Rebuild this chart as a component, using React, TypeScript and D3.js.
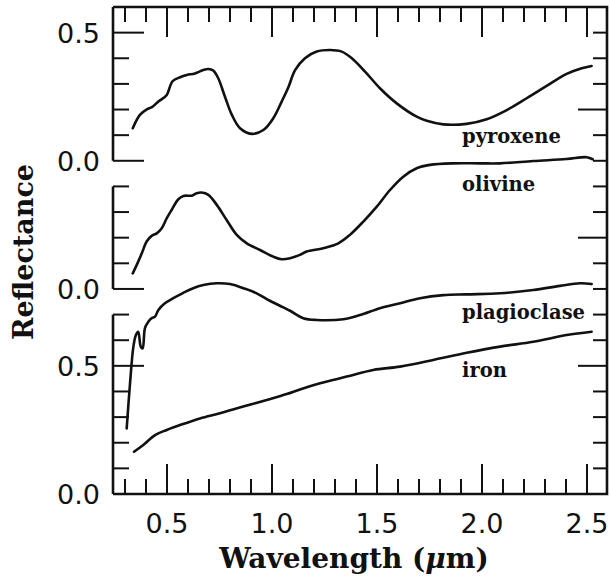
import React from "react";
import * as d3 from "d3";

// ---- data (wavelength in µm, reflectance) ----
const pyroxeneW = [0.337, 0.371, 0.404, 0.428, 0.459, 0.499, 0.514, 0.527, 0.562, 0.594, 0.633, 0.673, 0.697, 0.72, 0.744, 0.776, 0.809, 0.848, 0.903, 0.959, 1.006, 1.046, 1.078, 1.11, 1.157, 1.213, 1.276, 1.332, 1.38, 1.443, 1.514, 1.594, 1.689, 1.737, 1.816, 1.927, 2.022, 2.118, 2.213, 2.308, 2.403, 2.475, 2.522];
const pyroxeneR = [0.127, 0.179, 0.201, 0.209, 0.231, 0.257, 0.289, 0.311, 0.326, 0.335, 0.341, 0.354, 0.358, 0.352, 0.322, 0.25, 0.179, 0.127, 0.105, 0.12, 0.166, 0.231, 0.287, 0.354, 0.4, 0.426, 0.432, 0.426, 0.4, 0.348, 0.283, 0.224, 0.172, 0.156, 0.142, 0.144, 0.162, 0.198, 0.244, 0.292, 0.339, 0.361, 0.37];

const olivineW = [0.337, 0.356, 0.38, 0.403, 0.427, 0.451, 0.475, 0.499, 0.522, 0.554, 0.578, 0.618, 0.641, 0.665, 0.697, 0.737, 0.784, 0.832, 0.88, 0.943, 1.006, 1.046, 1.086, 1.133, 1.165, 1.244, 1.316, 1.371, 1.435, 1.499, 1.562, 1.625, 1.689, 1.752, 1.863, 1.99, 2.086, 2.244, 2.403, 2.499, 2.527];
const olivineR = [0.061, 0.094, 0.139, 0.185, 0.207, 0.217, 0.237, 0.276, 0.308, 0.35, 0.363, 0.364, 0.373, 0.376, 0.367, 0.328, 0.269, 0.211, 0.178, 0.152, 0.126, 0.116, 0.12, 0.133, 0.146, 0.159, 0.178, 0.211, 0.263, 0.321, 0.386, 0.438, 0.471, 0.484, 0.49, 0.49, 0.49, 0.499, 0.507, 0.514, 0.506];

const plagioclaseW = [0.308, 0.324, 0.34, 0.352, 0.363, 0.375, 0.384, 0.395, 0.411, 0.427, 0.443, 0.459, 0.49, 0.53, 0.578, 0.625, 0.673, 0.737, 0.8, 0.863, 0.927, 0.99, 1.054, 1.086, 1.149, 1.213, 1.34, 1.419, 1.514, 1.61, 1.705, 1.816, 1.927, 2.086, 2.244, 2.371, 2.467, 2.522];
const plagioclaseR = [0.256, 0.432, 0.575, 0.62, 0.633, 0.575, 0.568, 0.647, 0.672, 0.686, 0.692, 0.718, 0.744, 0.764, 0.785, 0.803, 0.815, 0.822, 0.819, 0.803, 0.783, 0.754, 0.728, 0.715, 0.686, 0.679, 0.682, 0.698, 0.725, 0.744, 0.764, 0.776, 0.779, 0.783, 0.796, 0.812, 0.822, 0.819];

const ironW = [0.343, 0.387, 0.443, 0.499, 0.562, 0.657, 0.752, 0.863, 0.975, 1.07, 1.133, 1.229, 1.356, 1.482, 1.61, 1.768, 1.927, 2.086, 2.244, 2.403, 2.522];
const ironR = [0.165, 0.191, 0.23, 0.25, 0.269, 0.295, 0.315, 0.341, 0.367, 0.39, 0.408, 0.432, 0.458, 0.484, 0.497, 0.523, 0.551, 0.575, 0.594, 0.62, 0.633];

const seriesNames = ["pyroxene", "olivine", "plagioclase", "iron"];
const seriesOffsets = [1.3, 0.8, 0, 0];

const xTickValues = [0.5, 1.0, 1.5, 2.0, 2.5];
const xTickLabels = ["0.5", "1.0", "1.5", "2.0", "2.5"];
const leftLabelValues = [1.8, 1.3, 0.8, 0.5, 0.0];
const leftLabelTexts = ["0.5", "0.0", "0.0", "0.5", "0.0"];
const panelRanges: [number, number][] = [[1.3, 1.9], [0.8, 1.2], [0, 0.7]];

export default function App() {
  const W = 610, H = 581;
  const left = 113, right = 607, top = 7, bottom = 494;
  const x = d3.scaleLinear().domain([0.5, 2.5]).range([167, 587]);
  const y = d3.scaleLinear().domain([0, 1.9]).range([bottom, top]);

  const series = [
    { w: pyroxeneW, r: pyroxeneR },
    { w: olivineW, r: olivineR },
    { w: plagioclaseW, r: plagioclaseR },
    { w: ironW, r: ironR },
  ];
  const line = d3
    .line<[number, number]>()
    .x((d) => x(d[0]))
    .y((d) => y(d[1]))
    .curve(d3.curveCatmullRom.alpha(0.5));

  const labelPos = [
    [462, 143],
    [462, 190.5],
    [462, 319],
    [462, 377],
  ];

  const minorX = d3.range(3, 26).map((i) => i / 10);
  const rightTicks = d3.range(1, 19).map((i) => i / 10);

  const sansFont = "'DejaVu Sans', sans-serif";
  const serifFont = "'DejaVu Serif', serif";
  const isMajorX = (v: number) => Math.abs(v * 2 - Math.round(v * 2)) < 1e-6;

  return (
    <svg
      width={W}
      height={H}
      style={{ position: "absolute", left: 0, top: 0, background: "#fff" }}
    >
      <rect x={0} y={0} width={W} height={H} fill="#fff" />
      {/* top / bottom ticks */}
      {minorX.map((v, i) => {
        const major = isMajorX(v);
        const len = major ? 30 : 15;
        return (
          <g key={"xt" + i} stroke="#111" strokeWidth={2}>
            <line x1={x(v)} x2={x(v)} y1={top} y2={top + len} />
            <line x1={x(v)} x2={x(v)} y1={bottom} y2={bottom - len} />
          </g>
        );
      })}
      {/* right ticks */}
      {rightTicks.map((v, i) => {
        const major = Math.abs(v * 2 - Math.round(v * 2)) < 1e-6;
        const len = major ? 29 : 14;
        return (
          <line
            key={"rt" + i}
            x1={right}
            x2={right - len}
            y1={y(v)}
            y2={y(v)}
            stroke="#111"
            strokeWidth={2}
          />
        );
      })}
      {/* left panel segments and ticks */}
      {panelRanges.map(([lo, hi], pi) => {
        const n = Math.round((hi - lo) * 10);
        return (
          <g key={"p" + pi}>
            <line x1={left} x2={left} y1={y(hi)} y2={y(lo)} stroke="#111" strokeWidth={2.6} />
            {d3.range(0, n + 1).map((k) => {
              const local = k / 10;
              const v = lo + local;
              if (pi === 0 && k === n) return null;
              const major = k === 0 || k === 5;
              const len = major ? 31 : 16;
              return (
                <line
                  key={k}
                  x1={left}
                  x2={left + len}
                  y1={y(v)}
                  y2={y(v)}
                  stroke="#111"
                  strokeWidth={2}
                />
              );
            })}
          </g>
        );
      })}
      {/* frame top, right, bottom */}
      <path
        d={`M${left},${top}H${right}V${bottom}H${left}`}
        fill="none"
        stroke="#111"
        strokeWidth={2.6}
      />
      {/* curves */}
      {series.map((s, i) => (
        <path
          key={"s" + i}
          d={line(s.w.map((w, k) => [w, s.r[k] + seriesOffsets[i]] as [number, number])) || ""}
          fill="none"
          stroke="#111"
          strokeWidth={2.6}
          strokeLinecap="round"
          strokeLinejoin="round"
        />
      ))}
      {/* curve labels */}
      {seriesNames.map((n, i) => (
        <text
          key={"l" + i}
          x={labelPos[i][0]}
          y={labelPos[i][1]}
          fontFamily={serifFont}
          fontWeight="bold"
          fontSize={19.5}
          fill="#111"
        >
          {n}
        </text>
      ))}
      {/* left tick labels */}
      {leftLabelValues.map((v, i) => (
        <text
          key={"ll" + i}
          x={100}
          y={y(v) + 10}
          textAnchor="end"
          fontFamily={sansFont}
          fontSize={27}
          fill="#111"
        >
          {leftLabelTexts[i]}
        </text>
      ))}
      {/* bottom tick labels */}
      {xTickValues.map((v, i) => (
        <text
          key={"bl" + i}
          x={x(v)}
          y={533}
          textAnchor="middle"
          fontFamily={sansFont}
          fontSize={27}
          fill="#111"
        >
          {xTickLabels[i]}
        </text>
      ))}
      {/* axis titles */}
      <text
        x={(left + right) / 2 - 6}
        y={568}
        textAnchor="middle"
        fontFamily={serifFont}
        fontWeight="bold"
        fontSize={28}
        fill="#111"
      >
        Wavelength (<tspan fontStyle="italic">μ</tspan>m)
      </text>
      <text
        transform={`translate(33, 252) rotate(-90)`}
        textAnchor="middle"
        fontFamily={serifFont}
        fontWeight="bold"
        fontSize={27}
        fill="#111"
      >
        Reflectance
      </text>
    </svg>
  );
}
